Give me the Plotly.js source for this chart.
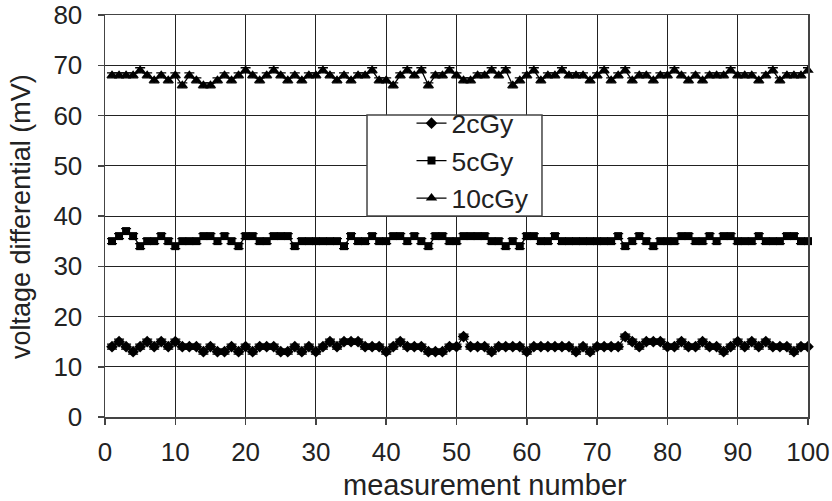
<!DOCTYPE html>
<html>
<head>
<meta charset="utf-8">
<script src="https://cdn.plot.ly/plotly-3.0.1.min.js"></script>
<style>html,body{margin:0;padding:0;background:#fff;}#chart{width:832px;height:501px;}</style>
</head>
<body>
<div id="chart"></div>
<script>
const measurement = Array.from({length: 100}, (_, i) => i + 1);
const seriesNames = ["2cGy", "5cGy", "10cGy"];
const v2cGy = [14,15,14,13,14,15,14,15,14,15, 14,14,14,13,14,13,13,14,13,14, 13,14,14,14,13,13,14,13,14,13,
  14,15,14,15,15,15,14,14,14,13, 14,15,14,14,14,13,13,13,14,14, 16,14,14,14,13,14,14,14,14,13,
  14,14,14,14,14,14,13,14,13,14, 14,14,14,16,15,14,15,15,15,14, 14,15,14,14,15,14,14,13,14,15,
  14,15,14,15,14,14,14,13,14,14];
const v5cGy = [35,36,37,36,34,35,35,36,35,34, 35,35,35,36,36,35,36,35,34,36, 36,35,35,36,36,36,34,35,35,35,
  35,35,35,34,36,35,35,36,35,35, 36,36,35,36,35,34,36,36,35,35, 36,36,36,36,35,35,34,35,34,36,
  36,35,35,36,35,35,35,35,35,35, 35,35,36,34,35,36,35,34,35,35, 35,36,36,35,35,36,35,36,36,35,
  35,35,36,35,35,35,36,36,35,35];
const v10cGy = [68,68,68,68,69,68,67,68,67,68, 66,68,67,66,66,67,68,67,68,69, 68,67,68,69,68,67,68,67,68,68,
  69,68,67,68,67,68,68,69,67,67, 66,68,69,68,69,66,68,68,69,68, 67,67,68,68,69,68,69,66,67,68,
  69,67,68,68,69,68,68,68,67,68, 69,67,68,69,67,68,68,67,68,68, 69,68,67,68,67,68,68,68,69,68,
  68,68,67,68,69,67,68,68,68,69];
const xTicks = [0,10,20,30,40,50,60,70,80,90,100];
const yTicks = [0,10,20,30,40,50,60,70,80];

const symbols = ["diamond", "square", "triangle-up"];
const sizes = [9, 8, 10];
const values = [v2cGy, v5cGy, v10cGy];

const traces = values.map((v, i) => ({
  type: "scatter",
  mode: "lines+markers",
  x: measurement,
  y: v,
  name: seriesNames[i],
  legendgroup: "g" + i,
  line: {color: "#000", width: 1.3},
  marker: {symbol: symbols[i], size: sizes[i], color: "#000"},
  error_y: {type: "constant", value: 0.5, color: "#000", thickness: 1.3, width: 5},
  cliponaxis: false
}));

const font = "Liberation Sans, Arial, sans-serif";
const layout = {
  width: 832, height: 501,
  margin: {l: 105, r: 24, t: 15, b: 84},
  paper_bgcolor: "#fff", plot_bgcolor: "#fff",
  font: {family: font, color: "#222", size: 26},
  showlegend: true,
  legend: {
    x: 0.436, y: 0.79, xanchor: "left", yanchor: "top",
    bgcolor: "rgba(0,0,0,0)", borderwidth: 0,
    font: {family: font, size: 26.5, color: "#222"},
    traceorder: "grouped", tracegroupgap: 0
  },
  xaxis: {
    range: [0, 100], tickvals: xTicks, ticktext: xTicks.map(String),
    showgrid: true, gridcolor: "#222", gridwidth: 1,
    showline: true, linecolor: "#444", linewidth: 1.5, mirror: true,
    ticks: "outside", ticklen: 6, tickcolor: "#444", tickwidth: 1.5,
    ticklabelstandoff: 5,
    zeroline: false,
    tickfont: {family: font, size: 26, color: "#222"}
  },
  yaxis: {
    range: [0, 80], tickvals: yTicks, ticktext: yTicks.map(String),
    showgrid: true, gridcolor: "#222", gridwidth: 1,
    showline: true, linecolor: "#444", linewidth: 1.5, mirror: true,
    ticks: "outside", ticklen: 6, tickcolor: "#444", tickwidth: 1.5,
    ticklabelstandoff: 10,
    zeroline: false,
    tickfont: {family: font, size: 26, color: "#222"}
  },
  shapes: [{
    type: "rect", xref: "paper", yref: "paper", layer: "above",
    x0: 0.3727, x1: 0.6216, y0: 0.5, y1: 0.7512,
    line: {color: "#444", width: 1.5}, fillcolor: "#fff"
  }],
  annotations: [{
    text: "measurement number", xref: "paper", yref: "paper",
    x: 0.5405, y: -0.169, xanchor: "center", yanchor: "middle", showarrow: false,
    font: {family: font, size: 29, color: "#222"}
  }, {
    text: "voltage differential (mV)", xref: "paper", yref: "paper", textangle: -90,
    x: -0.1195, y: 0.5, xanchor: "center", yanchor: "middle", showarrow: false,
    font: {family: font, size: 27, color: "#222"}
  }]
};

Plotly.newPlot("chart", traces, layout, {staticPlot: true, displayModeBar: false});
</script>
</body>
</html>
